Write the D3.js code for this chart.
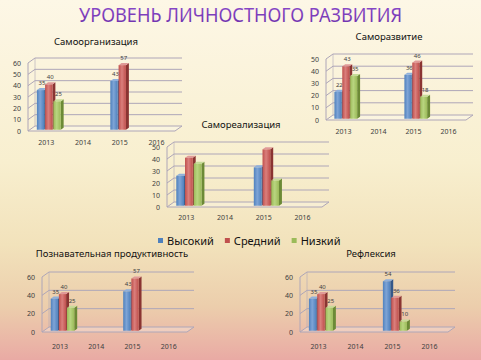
<!DOCTYPE html>
<html><head><meta charset="utf-8">
<script src="https://cdn.jsdelivr.net/npm/d3@7"></script>
<style>html,body{margin:0;padding:0;background:#fff}svg{display:block}</style>
</head><body>
<div id="chart"></div>
<script>
// ---------- DATA ----------
const categories = ["2013", "2014", "2015", "2016"];
const seriesNames = ["Высокий", "Средний", "Низкий"];
const mainTitle = "УРОВЕНЬ ЛИЧНОСТНОГО РАЗВИТИЯ";
const chartTitles = ["Самоорганизация", "Саморазвитие", "Самореализация", "Познавательная продуктивность", "Рефлексия"];
// values per series: [Высокий, Средний, Низкий], one per category
const samoorganizacia = [[35, null, 43, null], [40, null, 57, null], [25, null, null, null]];
const samorazvitie    = [[22, null, 36, null], [43, null, 46, null], [35, null, 18, null]];
const samorealizacia  = [[25, null, 32, null], [40, null, 47, null], [35, null, 21, null]];
const poznavatelnaya  = [[35, null, 43, null], [40, null, 57, null], [25, null, null, null]];
const refleksia       = [[35, null, 54, null], [40, null, 36, null], [25, null, 10, null]];
const ticks10to60 = [0, 10, 20, 30, 40, 50, 60];
const ticks10to50 = [0, 10, 20, 30, 40, 50];
const ticks20to60 = [0, 20, 40, 60];

// ---------- LAYOUT / STYLE ----------
const W = 481, H = 360;
const colors = [
  {front: "#4f81bd", light: "#7ea4d6", side: "#34588a", top: "#8fb0dc"},
  {front: "#c0504d", light: "#da7f7c", side: "#8a3432", top: "#e09a98"},
  {front: "#9bbb59", light: "#b9d580", side: "#6c8a36", top: "#c6dc98"}
];
const charts = [
  {data: samoorganizacia, ticks: ticks10to60, max: 60, xL: 28, xR: 175, y0: 131, yTop: 63, lblOff: 14, tx: 96, ty: 45, labels: true},
  {data: samorazvitie,    ticks: ticks10to50, max: 50, xL: 326, xR: 466, y0: 120, yTop: 59, lblOff: 14, tx: 389, ty: 40, labels: true},
  {data: samorealizacia,  ticks: ticks10to50, max: 50, xL: 167, xR: 322, y0: 207, yTop: 147, lblOff: 13, tx: 241, ty: 128, labels: false},
  {data: poznavatelnaya,  ticks: ticks20to60, max: 60, xL: 42, xR: 187, y0: 332, yTop: 277, lblOff: 17, tx: 112, ty: 257, labels: true},
  {data: refleksia,       ticks: ticks20to60, max: 60, xL: 300, xR: 448, y0: 332, yTop: 277, lblOff: 17, tx: 371, ty: 257, labels: true}
];
const DX = 7, DY = -5;
const FONT = "'Noto Sans', 'Open Sans', sans-serif";

const svg = d3.select("#chart").append("svg").attr("width", W).attr("height", H);
const defs = svg.append("defs");
const bg = defs.append("linearGradient").attr("id", "bg").attr("x1", 0).attr("y1", 0).attr("x2", 0).attr("y2", 1);
[[0, "#fdf7e6"], [0.45, "#f8efcf"], [0.68, "#f2e2bb"], [0.85, "#ecceac"], [1, "#e9aaa4"]]
  .forEach(([o, c]) => bg.append("stop").attr("offset", o).attr("stop-color", c));
svg.append("rect").attr("width", W).attr("height", H).attr("fill", "url(#bg)");

colors.forEach((c, i) => {
  const g = defs.append("linearGradient").attr("id", "bar" + i).attr("x1", 0).attr("x2", 1).attr("y1", 0).attr("y2", 0);
  g.append("stop").attr("offset", 0).attr("stop-color", c.front);
  g.append("stop").attr("offset", 0.45).attr("stop-color", c.light);
  g.append("stop").attr("offset", 1).attr("stop-color", c.front);
});
const ttl = defs.append("linearGradient").attr("id", "ttl").attr("x1", 0).attr("x2", 0).attr("y1", 0).attr("y2", 1);
ttl.append("stop").attr("offset", 0).attr("stop-color", "#9150d0");
ttl.append("stop").attr("offset", 1).attr("stop-color", "#6a2ca8");

// main title
svg.append("text").attr("x", W / 2).attr("y", 22).attr("text-anchor", "middle")
  .attr("font-family", FONT).attr("font-size", 20).attr("fill", "url(#ttl)")
  .attr("textLength", 323).attr("lengthAdjust", "spacingAndGlyphs").text(mainTitle);

const gridCol = "#aea6b8";

function drawChart(cfg, idx) {
  const g = svg.append("g");
  const x = d3.scaleBand().domain(categories).range([cfg.xL, cfg.xR]);
  const y = d3.scaleLinear().domain([0, cfg.max]).range([cfg.y0, cfg.yTop]);
  const bw = x.bandwidth();

  // floor
  const f = [[cfg.xL, cfg.y0], [cfg.xR, cfg.y0], [cfg.xR + DX, cfg.y0 + DY], [cfg.xL + DX, cfg.y0 + DY]];
  g.append("path").attr("d", d3.line()(f) + "Z").attr("fill", "rgba(255,255,255,0.25)")
    .attr("stroke", gridCol).attr("stroke-width", 1);
  // left wall edges
  g.append("line").attr("x1", cfg.xL).attr("x2", cfg.xL).attr("y1", y(0)).attr("y2", y(cfg.max))
    .attr("stroke", gridCol);
  g.append("line").attr("x1", cfg.xL + DX).attr("x2", cfg.xL + DX).attr("y1", y(0) + DY).attr("y2", y(cfg.max) + DY)
    .attr("stroke", gridCol).attr("stroke-opacity", 0.6);
  // grid lines
  cfg.ticks.filter(t => t > 0).forEach(t => {
    const p = [[cfg.xL, y(t)], [cfg.xL + DX, y(t) + DY], [cfg.xR + DX, y(t) + DY]];
    g.append("path").attr("d", d3.line()(p)).attr("fill", "none").attr("stroke", gridCol).attr("stroke-width", 1);
  });
  // y tick labels
  cfg.ticks.forEach(t => {
    g.append("text").attr("x", cfg.xL - 7).attr("y", y(t) + 2.5).attr("text-anchor", "end")
      .attr("font-family", FONT).attr("font-size", 7).attr("fill", "#404040").text(t);
  });
  // category labels
  categories.forEach(c => {
    g.append("text").attr("x", x(c) + bw / 2).attr("y", cfg.y0 + cfg.lblOff).attr("text-anchor", "middle")
      .attr("font-family", FONT).attr("font-size", 7).attr("fill", "#404040").text(c);
  });
  // bars
  const w = bw * 0.2, pitch = bw * 0.225, off = bw * 0.24;
  const bx = DX * 0.42, by = DY * 0.42, oy = DY * 0.25;
  categories.forEach((c, ci) => {
    cfg.data.forEach((ser, si) => {
      const v = ser[ci];
      if (v == null) return;
      const fx = x(c) + off + si * pitch;
      const yb = y(0) + oy, yt = y(v) + oy;
      const col = colors[si];
      g.append("path").attr("d", d3.line()([[fx + w, yb], [fx + w + bx, yb + by], [fx + w + bx, yt + by], [fx + w, yt]]) + "Z")
        .attr("fill", col.side);
      g.append("path").attr("d", d3.line()([[fx, yt], [fx + bx, yt + by], [fx + w + bx, yt + by], [fx + w, yt]]) + "Z")
        .attr("fill", col.top);
      g.append("rect").attr("x", fx).attr("y", yt).attr("width", w).attr("height", yb - yt)
        .attr("fill", "url(#bar" + si + ")");
      if (cfg.labels) {
        g.append("text").attr("x", fx + w / 2 + bx / 2).attr("y", yt + by - 3).attr("text-anchor", "middle")
          .attr("font-family", FONT).attr("font-size", 6).attr("fill", "#404040").text(v);
      }
    });
  });
  // title
  g.append("text").attr("x", cfg.tx).attr("y", cfg.ty).attr("text-anchor", "middle")
    .attr("font-family", FONT).attr("font-size", 9.5).attr("fill", "#111").text(chartTitles[idx]);
}
charts.forEach(drawChart);

// legend
const leg = svg.append("g");
let lx = 158;
seriesNames.forEach((n, i) => {
  leg.append("rect").attr("x", lx).attr("y", 238).attr("width", 5).attr("height", 5).attr("fill", colors[i].front);
  const t = leg.append("text").attr("x", lx + 9).attr("y", 245).attr("font-family", FONT)
    .attr("font-size", 11).attr("fill", "#111").text(n);
  lx += 9 + t.node().getComputedTextLength() + 11;
});
</script>
</body></html>
